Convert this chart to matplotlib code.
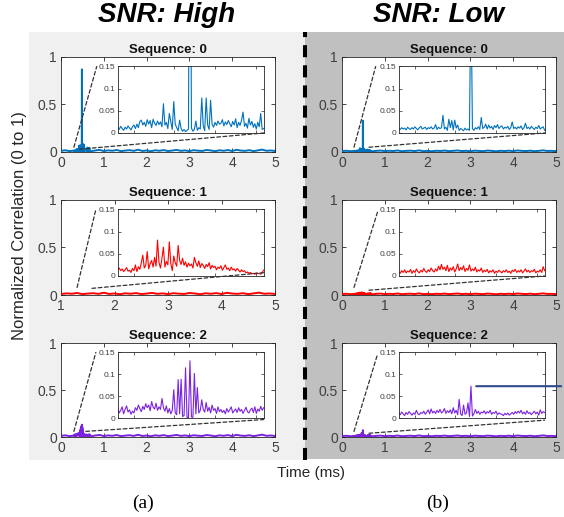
import numpy as np
import matplotlib
matplotlib.use("Agg")
import matplotlib.pyplot as plt
from matplotlib.patches import Rectangle, ConnectionPatch
from matplotlib.lines import Line2D
from matplotlib.transforms import blended_transform_factory

plt.rcParams['font.family'] = ['Liberation Sans', 'DejaVu Sans']

# zoom window (ms) shown in the insets, 100 samples across it
win_lo, win_hi = 0.31, 0.67

high_seq0 = [0.012, 0.008, 0.015, 0.010, 0.006, 0.013, 0.009, 0.016, 0.011, 0.007,
             0.014, 0.018, 0.010, 0.020, 0.012, 0.026, 0.029, 0.018, 0.024, 0.015,
             0.030, 0.020, 0.028, 0.012, 0.031, 0.022, 0.017, 0.027, 0.019, 0.025,
             0.014, 0.066, 0.018, 0.024, 0.010, 0.044, 0.026, 0.008, 0.071, 0.020,
             0.012, 0.005, 0.029, 0.010, 0.004, 0.008, 0.003, 0.006, 0.009, 0.870,
             0.011, 0.004, 0.008, 0.027, 0.006, 0.012, 0.009, 0.079, 0.016, 0.005,
             0.079, 0.018, 0.008, 0.074, 0.020, 0.013, 0.024, 0.017, 0.027, 0.020,
             0.022, 0.030, 0.016, 0.025, 0.019, 0.028, 0.021, 0.014, 0.026, 0.018,
             0.032, 0.012, 0.024, 0.017, 0.029, 0.047, 0.015, 0.022, 0.011, 0.033,
             0.018, 0.026, 0.013, 0.021, 0.009, 0.024, 0.014, 0.044, 0.008, 0.010]

high_seq1 = [0.015, 0.018, 0.012, 0.016, 0.010, 0.014, 0.019, 0.011, 0.013, 0.008,
             0.017, 0.012, 0.025, 0.010, 0.021, 0.015, 0.030, 0.047, 0.018, 0.024,
             0.055, 0.016, 0.028, 0.035, 0.020, 0.042, 0.022, 0.081, 0.030, 0.018,
             0.040, 0.065, 0.020, 0.033, 0.025, 0.077, 0.028, 0.012, 0.045, 0.030,
             0.022, 0.069, 0.035, 0.026, 0.040, 0.024, 0.032, 0.020, 0.029, 0.023,
             0.027, 0.018, 0.042, 0.030, 0.022, 0.034, 0.019, 0.028, 0.024, 0.017,
             0.026, 0.021, 0.030, 0.016, 0.024, 0.019, 0.022, 0.014, 0.020, 0.017,
             0.023, 0.013, 0.019, 0.025, 0.015, 0.018, 0.012, 0.020, 0.014, 0.016,
             0.011, 0.017, 0.013, 0.009, 0.014, 0.010, 0.012, 0.007, 0.009, 0.006,
             0.008, 0.005, 0.006, 0.004, 0.007, 0.005, 0.006, 0.004, 0.008, 0.013]

high_seq2 = [0.022, 0.012, 0.018, 0.026, 0.010, 0.020, 0.028, 0.014, 0.019, 0.009,
             0.016, 0.012, 0.024, 0.018, 0.030, 0.022, 0.015, 0.027, 0.020, 0.033,
             0.024, 0.030, 0.017, 0.038, 0.025, 0.021, 0.034, 0.018, 0.026, 0.020,
             0.045, 0.024, 0.016, 0.028, 0.012, 0.022, 0.010, 0.018, 0.065, 0.012,
             0.008, 0.088, 0.010, 0.089, 0.004, 0.006, 0.115, 0.002, 0.001, 0.131,
             0.003, 0.002, 0.102, 0.010, 0.070, 0.012, 0.018, 0.042, 0.020, 0.014,
             0.036, 0.016, 0.025, 0.012, 0.030, 0.018, 0.022, 0.011, 0.026, 0.015,
             0.020, 0.013, 0.018, 0.010, 0.022, 0.014, 0.019, 0.026, 0.012, 0.017,
             0.021, 0.013, 0.024, 0.016, 0.020, 0.011, 0.018, 0.025, 0.015, 0.012,
             0.019, 0.023, 0.013, 0.026, 0.011, 0.021, 0.016, 0.027, 0.018, 0.024]

low_seq0 = [0.010, 0.008, 0.012, 0.009, 0.011, 0.007, 0.013, 0.010, 0.008, 0.012,
            0.009, 0.014, 0.010, 0.007, 0.012, 0.015, 0.009, 0.011, 0.013, 0.008,
            0.012, 0.010, 0.014, 0.009, 0.011, 0.019, 0.008, 0.013, 0.010, 0.012,
            0.040, 0.009, 0.013, 0.006, 0.031, 0.012, 0.028, 0.007, 0.029, 0.011,
            0.018, 0.006, 0.010, 0.008, 0.005, 0.011, 0.007, 0.009, 0.006, 0.330,
            0.010, 0.006, 0.012, 0.009, 0.014, 0.008, 0.035, 0.010, 0.013, 0.020,
            0.009, 0.018, 0.011, 0.015, 0.008, 0.017, 0.012, 0.019, 0.010, 0.014,
            0.016, 0.009, 0.013, 0.011, 0.015, 0.008, 0.012, 0.025, 0.010, 0.013,
            0.009, 0.014, 0.011, 0.016, 0.008, 0.012, 0.022, 0.010, 0.013, 0.009,
            0.015, 0.011, 0.008, 0.013, 0.010, 0.017, 0.009, 0.012, 0.014, 0.006]

low_seq1 = [0.010, 0.006, 0.012, 0.008, 0.014, 0.007, 0.011, 0.009, 0.015, 0.006,
            0.012, 0.008, 0.016, 0.010, 0.007, 0.013, 0.009, 0.017, 0.011, 0.008,
            0.014, 0.010, 0.018, 0.012, 0.009, 0.016, 0.011, 0.022, 0.014, 0.026,
            0.015, 0.020, 0.012, 0.024, 0.010, 0.018, 0.013, 0.021, 0.009, 0.016,
            0.027, 0.012, 0.019, 0.014, 0.023, 0.010, 0.017, 0.013, 0.025, 0.011,
            0.016, 0.012, 0.020, 0.009, 0.014, 0.011, 0.018, 0.008, 0.013, 0.010,
            0.015, 0.007, 0.012, 0.009, 0.014, 0.006, 0.011, 0.008, 0.013, 0.010,
            0.007, 0.012, 0.009, 0.014, 0.008, 0.011, 0.006, 0.013, 0.010, 0.015,
            0.008, 0.012, 0.009, 0.014, 0.007, 0.011, 0.016, 0.009, 0.013, 0.008,
            0.012, 0.010, 0.015, 0.007, 0.011, 0.009, 0.014, 0.008, 0.021, 0.012]

low_seq2 = [0.012, 0.008, 0.014, 0.010, 0.006, 0.013, 0.009, 0.015, 0.011, 0.007,
            0.012, 0.009, 0.018, 0.010, 0.008, 0.013, 0.011, 0.016, 0.009, 0.014,
            0.019, 0.010, 0.021, 0.012, 0.016, 0.011, 0.018, 0.013, 0.020, 0.012,
            0.015, 0.022, 0.011, 0.017, 0.013, 0.019, 0.010, 0.024, 0.012, 0.018,
            0.008, 0.043, 0.010, 0.006, 0.030, 0.009, 0.012, 0.035, 0.004, 0.073,
            0.005, 0.010, 0.020, 0.011, 0.016, 0.009, 0.014, 0.012, 0.017, 0.010,
            0.015, 0.012, 0.018, 0.009, 0.013, 0.011, 0.016, 0.008, 0.012, 0.010,
            0.009, 0.006, 0.011, 0.008, 0.012, 0.007, 0.010, 0.013, 0.009, 0.015,
            0.011, 0.016, 0.012, 0.018, 0.010, 0.014, 0.009, 0.017, 0.011, 0.013,
            0.008, 0.012, 0.016, 0.010, 0.014, 0.007, 0.019, 0.011, 0.015, 0.013]

# rest of the full traces, one value every 0.1 ms from 0 to 5 ms
bg_high = [0.012, 0.018, 0.009, 0.015, 0.011, 0.020, 0.014, 0.008, 0.016, 0.022,
           0.010, 0.017, 0.013, 0.021, 0.009, 0.015, 0.019, 0.012, 0.024, 0.011,
           0.016, 0.008, 0.018, 0.013, 0.020, 0.010, 0.015, 0.022, 0.012, 0.017,
           0.009, 0.019, 0.014, 0.011, 0.021, 0.016, 0.008, 0.018, 0.013, 0.020,
           0.010, 0.023, 0.015, 0.012, 0.019, 0.009, 0.017, 0.025, 0.013, 0.016, 0.011]
bg_low = [0.010, 0.013, 0.008, 0.012, 0.009, 0.014, 0.011, 0.007, 0.012, 0.015,
          0.009, 0.013, 0.010, 0.016, 0.008, 0.012, 0.014, 0.010, 0.017, 0.009,
          0.012, 0.008, 0.013, 0.011, 0.015, 0.009, 0.012, 0.016, 0.010, 0.013,
          0.008, 0.014, 0.011, 0.009, 0.015, 0.012, 0.007, 0.013, 0.010, 0.014,
          0.009, 0.016, 0.012, 0.010, 0.014, 0.008, 0.013, 0.017, 0.011, 0.012, 0.009]

snr_titles = ['SNR: High', 'SNR: Low']
panel_labels = ['(a)', '(b)']
zoom_data = [[high_seq0, high_seq1, high_seq2], [low_seq0, low_seq1, low_seq2]]
backgrounds = [bg_high, bg_low]
seq_colors = ['#0072BD', '#FF0000', '#7B22E0']
main_xlims = [[(0, 5), (1, 5), (0, 5)], [(0, 5), (0, 5), (0, 5)]]

# layout (figure fractions)
col_left = [0.1082, 0.6064]
ax_w = 0.3794
rows = [(0.7060, 0.1838), (0.4294, 0.1838), (0.1547, 0.1818)]
inset_box = [0.265, 0.20, 0.682, 0.70]
# dashed zoom connectors: start in main data coords, end in inset axes coords
connectors = [
    [[((0.30, 0.05), (-0.144, 1.0)), ((0.44, 0.03), (1.0, 0.0))],
     [((1.30, 0.08), (-0.150, 1.0)), ((1.58, 0.07), (1.0, 0.05))],
     [((0.30, 0.06), (-0.150, 1.0)), ((0.58, 0.06), (1.0, -0.02))]],
    [[((0.28, 0.05), (-0.158, 1.0)), ((0.63, 0.05), (1.0, 0.0))],
     [((0.28, 0.08), (-0.144, 0.97)), ((0.63, 0.05), (1.0, 0.0))],
     [((0.28, 0.06), (-0.144, 0.98)), ((0.63, 0.04), (1.0, -0.03))]],
]

axis_col = '#262626'
tick_col = '#404040'

fig = plt.figure(figsize=(5.64, 5.17), dpi=100)
fig.add_artist(Rectangle((0.0514, 0.1103), 0.4894, 0.8278, transform=fig.transFigure,
                         facecolor='#F0F0F0', edgecolor='none', zorder=0))
fig.add_artist(Rectangle((0.5408, 0.1122), 0.4592, 0.8259, transform=fig.transFigure,
                         facecolor='#C0C0C0', edgecolor='none', zorder=0))

t_bg = np.linspace(0, 5, len(bg_high))

for c in range(2):
    for r in range(3):
        win = np.array(zoom_data[c][r])
        t_win = np.linspace(win_lo, win_hi, len(win))
        bg = np.array(backgrounds[c])
        before = t_bg < win_lo
        after = t_bg > win_hi
        t = np.concatenate([t_bg[before], t_win, t_bg[after]])
        v = np.concatenate([bg[before], win, bg[after]])
        col = seq_colors[r]

        ax = fig.add_axes([col_left[c], rows[r][0], ax_w, rows[r][1]])
        ax.set_facecolor('white')
        ax.plot(t, v, color=col, lw=1.4, zorder=3)
        ax.set_xlim(*main_xlims[c][r])
        ax.set_ylim(0, 1)
        ax.set_yticks([0, 0.5, 1])
        ax.set_yticklabels(['0', '0.5', '1'])
        ax.tick_params(direction='in', top=True, right=True, labelsize=10,
                       labelcolor=tick_col, color=axis_col, length=3, width=0.6, pad=3)
        for s in ax.spines.values():
            s.set_color(axis_col)
            s.set_linewidth(0.6)
        ax.set_title(f'Sequence: {r}', fontsize=9.5, fontweight='bold', pad=3, color='#111111')

        ins = ax.inset_axes(inset_box)
        ins.set_facecolor('white')
        ins.plot(t_win, win, color=col, lw=0.8)
        ins.set_xlim(win_lo, win_hi)
        ins.set_ylim(0, 0.15)
        ins.set_xticks([0.35, 0.45, 0.55, 0.65])
        ins.set_xticklabels([])
        ins.set_yticks([0, 0.05, 0.1, 0.15])
        ins.set_yticklabels(['0', '0.05', '0.1', '0.15'])
        ins.tick_params(direction='in', top=True, right=True, labelsize=6,
                        labelcolor=tick_col, color=axis_col, length=2, width=0.5, pad=1.5)
        for s in ins.spines.values():
            s.set_color(axis_col)
            s.set_linewidth(0.6)

        for start, end in connectors[c][r]:
            con = ConnectionPatch(xyA=start, coordsA=ax.transData, xyB=end, coordsB=ins.transAxes,
                                  color='#333333', lw=0.9, linestyle=(0, (3, 2)), zorder=6)
            fig.add_artist(con)

        if c == 1 and r == 2:
            # marker line at the peak level of the low-SNR sequence 2
            k = int(np.argmax(win))
            con = ConnectionPatch(xyA=(t_win[k] + 0.013, win[k]), coordsA=ins.transData,
                                  xyB=(0.995, win[k]),
                                  coordsB=blended_transform_factory(fig.transFigure, ins.transData),
                                  color='#2E4A8A', lw=1.5, zorder=7)
            fig.add_artist(con)

# dashed separator between the two SNR panels
fig.add_artist(Line2D([0.5408, 0.5408], [0.110, 0.938], transform=fig.transFigure,
                      color='black', lw=2.9, linestyle=(0, (3, 2)), zorder=1))

fig.text(0.296, 0.971, snr_titles[0], fontsize=20, fontweight='bold', fontstyle='italic',
         ha='center', va='center')
fig.text(0.777, 0.971, snr_titles[1], fontsize=20, fontweight='bold', fontstyle='italic',
         ha='center', va='center')
fig.text(0.034, 0.564, 'Normalized Correlation (0 to 1)', rotation=90, fontsize=12,
         ha='center', va='center', color=axis_col)
fig.text(0.551, 0.085, 'Time (ms)', fontsize=11, ha='center', va='center', color=axis_col)
fig.text(0.254, 0.027, panel_labels[0], family=['Liberation Serif'], fontsize=14, ha='center', va='center')
fig.text(0.775, 0.027, panel_labels[1], family=['Liberation Serif'], fontsize=14, ha='center', va='center')

fig.savefig('out.png', dpi=100)
